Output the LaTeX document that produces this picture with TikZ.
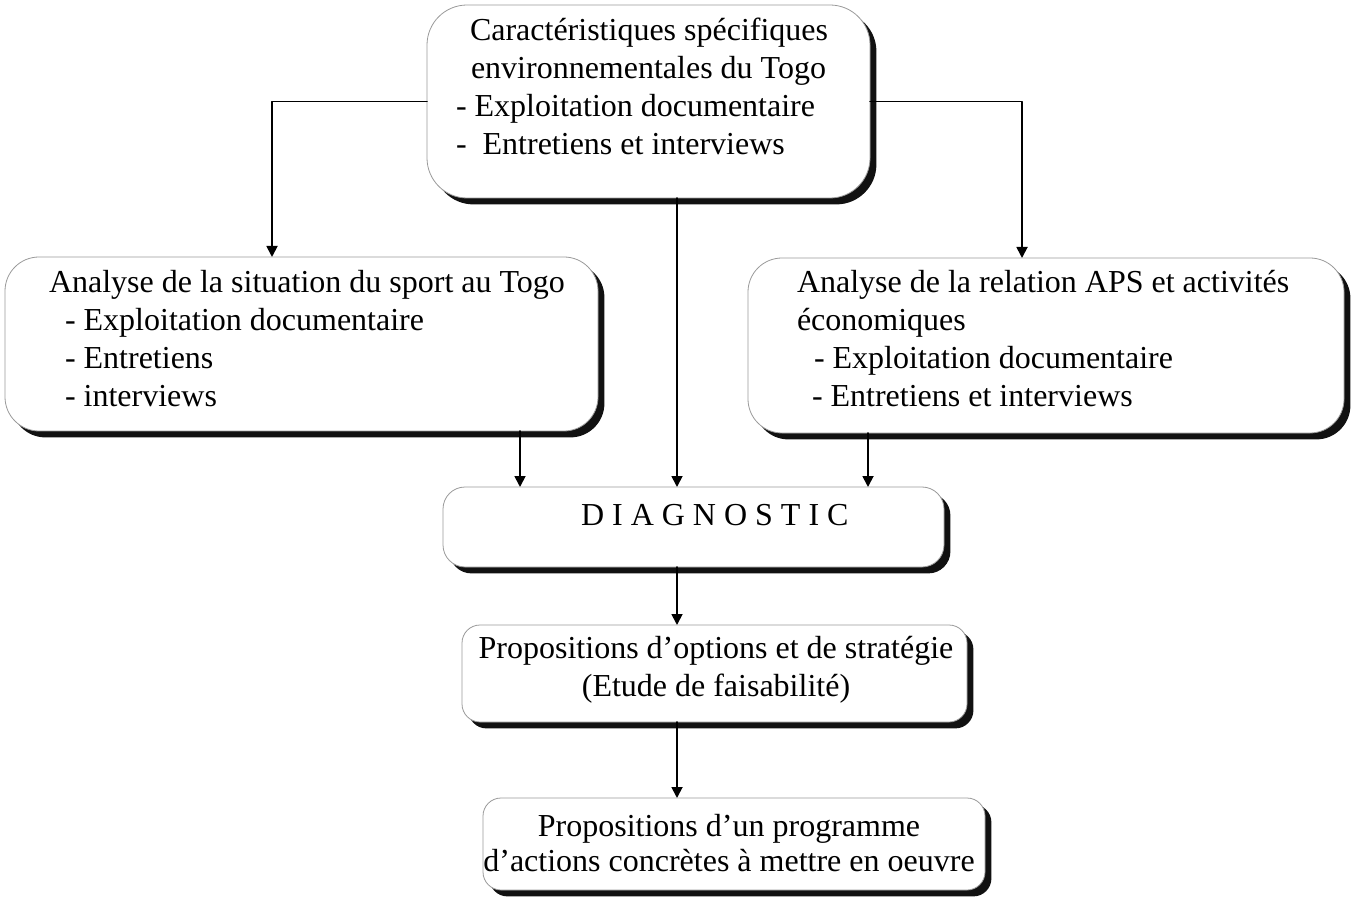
\documentclass[tikz,border=0pt]{standalone}
\usepackage{fontspec}
\setmainfont{Liberation Serif}
\usetikzlibrary{arrows.meta, fit, shadows, positioning}

\definecolor{rim}{HTML}{9a9a9a}
\definecolor{shade}{HTML}{111111}

\begin{document}
\begin{tikzpicture}[
  x=0.5pt, y=-0.5pt,
  line cap=round, line join=round,
  every node/.style={font={\fontsize{16}{19}\selectfont}, inner sep=0pt, outer sep=0pt},
  stagebox/.style={draw=rim, line width=0.4pt, fill=white, rounded corners=#1,
    drop shadow={shadow xshift=3.2pt, shadow yshift=-3.2pt, fill=shade, opacity=1}},
  boxtext/.style={align=left, anchor=base west},
  centretext/.style={align=center, anchor=base},
  flow/.style={draw=black, line width=0.9pt, -{Triangle[length=5.5pt, width=5.5pt]}},
]
\useasboundingbox (0,0) rectangle (1354,903);

% boxes
\node[stagebox=20pt, fit={(427,5) (870,198)}] (environ) {};
\node[stagebox=17pt, fit={(5,257) (598,431)}] (sport) {};
\node[stagebox=17pt, fit={(748,258) (1344,433)}] (eco) {};
\node[stagebox=11pt, fit={(443,487) (944,567)}] (diag) {};
\node[stagebox=9pt, fit={(462,625) (967,722)}] (options) {};
\node[stagebox=9pt, fit={(483,798) (985,890)}] (actions) {};

% texts (anchored on the baseline of their last line)
\node[boxtext] (environtext) at (456,155) {\hspace*{7pt}Caractéristiques spécifiques\\
  \hspace*{7.5pt}environnementales du Togo\\
  - Exploitation documentaire\\
  -\ \ Entretiens et interviews};
\node[boxtext] (sporttext) at (49,407) {Analyse de la situation du sport au Togo\\
  \hspace*{8pt}- Exploitation documentaire\\
  \hspace*{8pt}- Entretiens\\
  \hspace*{8pt}- interviews};
\node[boxtext] (ecotext) at (797,407) {Analyse de la relation APS et activités\\
  économiques\\
  \hspace*{8.5pt}- Exploitation documentaire\\
  \hspace*{7.5pt}- Entretiens et interviews};
\node[boxtext] (diagtext) at (581,525) {D I A G N O S T I C};
\node[centretext] (optionstext) at (716,696) {Propositions d’options et de stratégie\\
  (Etude de faisabilité)};
\node[centretext, font={\fontsize{16}{17.5}\selectfont}] (actionstext) at (729,871) {Propositions d’un programme\\
  d’actions concrètes à mettre en oeuvre};

% connectors
\coordinate (spine) at (677,0);
\coordinate (sportdrop) at (272,0);
\coordinate (ecodrop) at (1022,0);
\coordinate (sportout) at (520,0);
\coordinate (ecoout) at (868,0);
\draw[flow] (environ.west) -| (sportdrop |- sport.north);
\draw[flow] (environ.east) -| (ecodrop |- eco.north);
\draw[flow] (spine |- environ.south) -- (spine |- diag.north);
\draw[flow] (sportout |- sport.south) -- (sportout |- diag.north);
\draw[flow] (ecoout |- eco.south) -- (ecoout |- diag.north);
\draw[flow] (spine |- diag.south) -- (spine |- options.north);
\draw[flow] (spine |- options.south) -- (spine |- actions.north);
\end{tikzpicture}
\end{document}
